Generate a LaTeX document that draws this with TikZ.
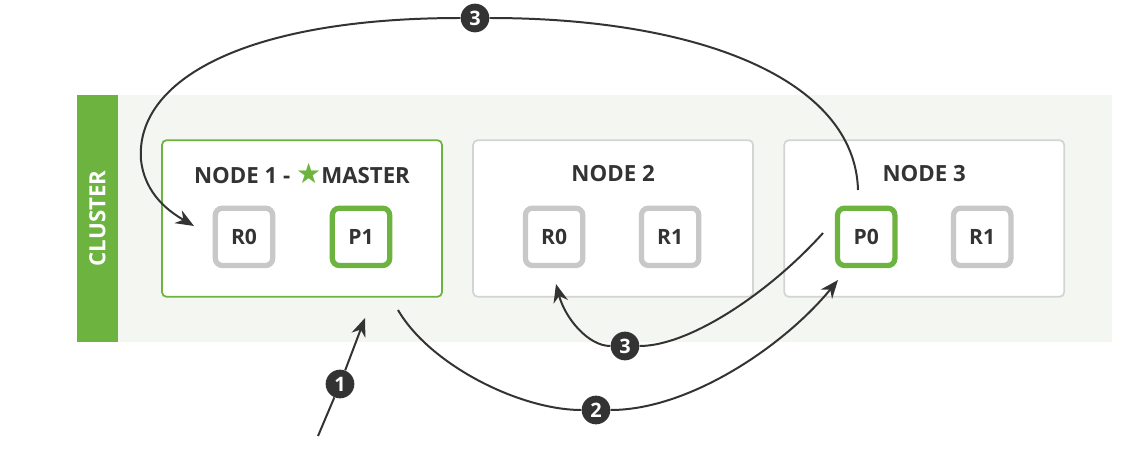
\documentclass[tikz,border=0pt]{standalone}
\usepackage{fontspec}
\setmainfont{Open Sans}
\newfontfamily\symfont{DejaVu Sans}
\usepackage{xcolor}
\usetikzlibrary{arrows.meta,positioning}
\definecolor{elgreen}{HTML}{6CB33F}
\definecolor{inkgray}{HTML}{333333}
\definecolor{shardgray}{HTML}{C8C8C8}
\definecolor{boxgray}{HTML}{D4D4D4}
\definecolor{clusterbg}{HTML}{F4F6F2}
\newcommand{\masterstar}{{\symfont\fontsize{24}{24}\selectfont\color{elgreen}\char"2605}}
\tikzset{
  nodebox/.style={
    rectangle, rounded corners=4pt, draw=boxgray, line width=1.5pt,
    fill=white, minimum width=8.4cm, minimum height=4.7cm
  },
  masterbox/.style={nodebox, draw=elgreen},
  boxtitle/.style={font=\fontsize{19}{22}\selectfont\bfseries, text=inkgray},
  shard/.style={
    rectangle, rounded corners=6pt, draw=shardgray, line width=4.5pt,
    fill=white, minimum size=1.72cm, inner sep=0pt,
    font=\fontsize{18}{20}\selectfont\bfseries, text=inkgray
  },
  primary/.style={shard, draw=elgreen},
  clusterbar/.style={
    rectangle, fill=elgreen, minimum width=7.41cm, minimum height=1.23cm,
    text=white, font=\fontsize{19}{22}\selectfont\bfseries
  },
  badge/.style={
    circle, fill=inkgray, text=white, inner sep=0pt, minimum size=0.86cm,
    font=\fontsize{17}{18}\selectfont\bfseries
  },
  flowline/.style={line width=1.7pt, color=inkgray},
  flowarrow/.style={flowline, -{Stealth[length=5.5mm,width=4.4mm]}},
}

\begin{document}
\begin{tikzpicture}[x=0.03cm, y=-0.03cm]
  \useasboundingbox (0,0) rectangle (1125,452);
  \fill[clusterbg] (118,95) rectangle (1112,342);
  \node[clusterbar, rotate=90] (bar) at (97.5,218.5) {CLUSTER};

  % nodes of the cluster
  \node[masterbox] (n1) at (302,218.5) {};
  \node[nodebox, right=0.88cm of n1] (n2) {};
  \node[nodebox, right=0.88cm of n2] (n3) {};
  \node[boxtitle] (t1) at ([yshift=1.36cm]n1.center) {NODE 1 - \masterstar MASTER};
  \node[boxtitle] (t2) at ([yshift=1.36cm]n2.center) {NODE 2};
  \node[boxtitle] (t3) at ([yshift=1.36cm]n3.center) {NODE 3};

  % shards
  \node[shard]   (r0a) at ([xshift=-1.74cm,yshift=-0.55cm]n1.center) {R0};
  \node[primary] (p1)  at ([xshift=1.77cm,yshift=-0.55cm]n1.center)  {P1};
  \node[shard]   (r0b) at ([xshift=-1.77cm,yshift=-0.55cm]n2.center) {R0};
  \node[shard]   (r1b) at ([xshift=1.71cm,yshift=-0.55cm]n2.center)  {R1};
  \node[primary] (p0)  at ([xshift=-1.74cm,yshift=-0.55cm]n3.center) {P0};
  \node[shard]   (r1c) at ([xshift=1.74cm,yshift=-0.55cm]n3.center)  {R1};

  % steps
  \node[badge] (b1) at (340,384) {1};
  \node[badge] (b2) at (596,410) {2};
  \node[badge] (b3) at (625,346) {3};
  \node[badge] (b4) at (475,18)  {3};
  \coordinate (s1) at (318,436);
  \coordinate (e1) at (365,318);
  \coordinate (s2) at (398,310);
  \coordinate (e2) at (838,280);
  \coordinate (s3) at (823,233);
  \coordinate (e3) at (556,284);
  \coordinate (s4) at (858,190);
  \coordinate (e4) at (194,226);

  \draw[flowline] (s1) -- (b1);
  \draw[flowarrow] (b1) -- (e1);
  \draw[flowline] (s2) .. controls (430,365) and (520,410) .. (b2);
  \draw[flowarrow] (b2) .. controls (690,410) and (785,345) .. (e2);
  \draw[flowline] (s3) .. controls (770,292) and (690,346) .. (b3);
  \draw[flowarrow] (b3) .. controls (588,346) and (565,318) .. (e3);
  \draw[flowline] (s4) .. controls (855,80) and (700,18) .. (b4);
  \draw[flowarrow] (b4) .. controls (245,18) and (135,80) .. (141,160)
    .. controls (145,195) and (170,212) .. (e4);
\end{tikzpicture}
\end{document}
